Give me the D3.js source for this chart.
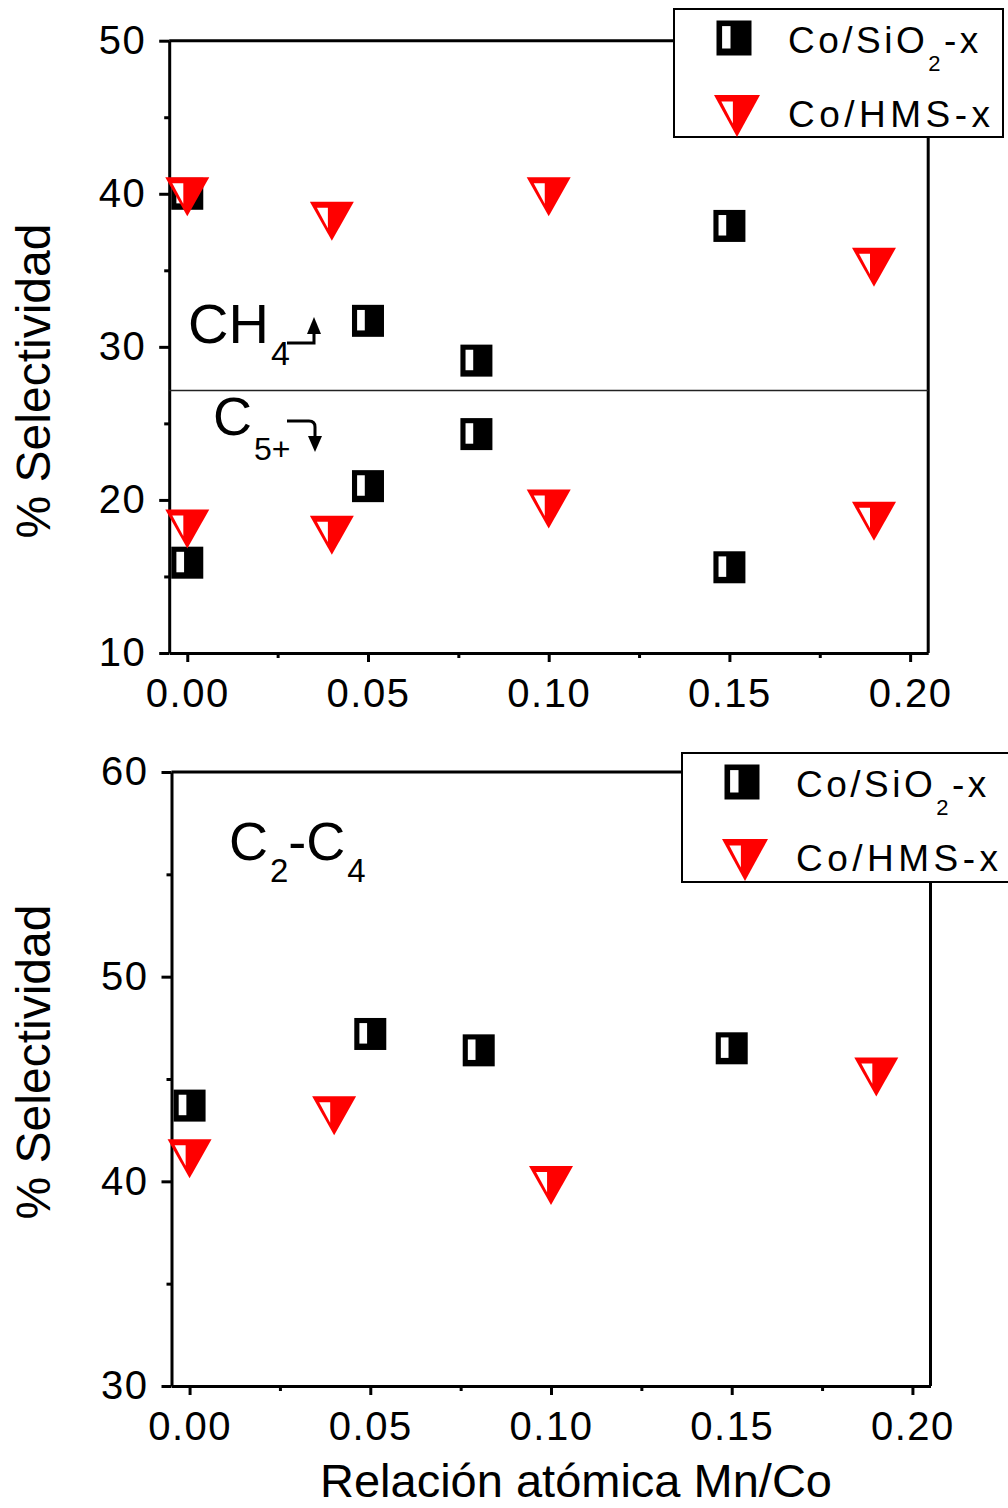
<!DOCTYPE html>
<html>
<head>
<meta charset="utf-8">
<script src="https://cdn.jsdelivr.net/npm/d3@7"></script>
<style>
  html, body { margin: 0; padding: 0; background: #fff; }
  svg { display: block; }
  text { font-family: "Liberation Sans", Arial, Helvetica, sans-serif; fill: #000; }
</style>
</head>
<body>
<svg id="chart" width="1008" height="1508"></svg>
<script>
// Mn/Co atomic ratio for each catalyst series
const xSiO2 = [0, 0.05, 0.08, 0.15];
const xHMS  = [0, 0.04, 0.10, 0.19];

// Selectivity (%) — upper panel: CH4 and C5+
const ch4SiO2 = [40.0, 31.7, 29.1, 37.9];
const c5SiO2  = [15.9, 20.9, 24.3, 15.6];
const ch4HMS  = [39.8, 38.2, 39.8, 35.2];
const c5HMS   = [18.1, 17.7, 19.4, 18.6];

// Selectivity (%) — lower panel: C2-C4
const c24SiO2 = [43.7, 47.2, 46.4, 46.5];
const c24HMS  = [41.1, 43.2, 39.8, 45.1];

// Axis ticks
const xTicks = [0, 0.05, 0.10, 0.15, 0.20];
const xMinor = [0.025, 0.075, 0.125, 0.175];
const yTicksTop = [10, 20, 30, 40, 50];
const yMinorTop = [15, 25, 35, 45];
const yTicksBot = [30, 40, 50, 60];
const yMinorBot = [35, 45, 55];

// Boundary separating the CH4 (above) and C5+ (below) groups
const splitValue = 27.15;

const seriesNames = ["Co/SiO", "Co/HMS-x"];

const svg = d3.select("#chart");
const RED = "#ff0000";

// Half-filled square symbol (black)
function drawSquare(g, s) {
  g.append("rect").attr("x", -s / 2).attr("y", -s / 2).attr("width", s).attr("height", s).attr("fill", "#000");
  g.append("rect").attr("x", -s / 2 + s * 0.16).attr("y", -s / 2 + s * 0.16)
    .attr("width", s * 0.24).attr("height", s * 0.64).attr("fill", "#fff");
}
// Half-filled down-pointing triangle symbol (red)
function drawTriangle(g, w, h) {
  g.append("polygon").attr("points", [[-w / 2, -h / 2], [w / 2, -h / 2], [0, h / 2]].map(p => p.join(",")).join(" "))
    .attr("fill", RED);
  g.append("polygon").attr("points",
    [[-0.34 * w, -0.346 * h], [-0.09 * w, -0.346 * h], [-0.09 * w, 0.177 * h]].map(p => p.join(",")).join(" "))
    .attr("fill", "#fff");
}

function panel(cfg) {
  const x = d3.scaleLinear().domain([-0.005, 0.205]).range(cfg.xRange);
  const y = d3.scaleLinear().domain(cfg.yDomain).range(cfg.yRange);
  const g = svg.append("g");
  const [x0, x1] = cfg.xRange;
  const [yb, yt] = cfg.yRange;

  // frame (top and right)
  g.append("path").attr("d", `M${x0},${yt}H${x1}V${yb}`).attr("fill", "none").attr("stroke", "#000").attr("stroke-width", 3);

  // x axis
  g.append("g").attr("transform", `translate(0,${yb})`)
    .call(d3.axisBottom(x).tickValues(xTicks).tickSize(9).tickSizeOuter(0).tickPadding(17).tickFormat(d3.format(".2f")));
  g.append("g").attr("transform", `translate(0,${yb})`)
    .call(d3.axisBottom(x).tickValues(xMinor).tickSize(5).tickSizeOuter(0).tickFormat(""))
    .select(".domain").remove();
  // y axis
  g.append("g").attr("transform", `translate(${x0},0)`)
    .call(d3.axisLeft(y).tickValues(cfg.yTicks).tickSize(10).tickSizeOuter(0).tickPadding(13));
  g.append("g").attr("transform", `translate(${x0},0)`)
    .call(d3.axisLeft(y).tickValues(cfg.yMinor).tickSize(5).tickSizeOuter(0).tickFormat(""))
    .select(".domain").remove();

  g.selectAll(".domain").attr("stroke-width", 3).attr("stroke", "#000");
  g.selectAll(".tick line").attr("stroke-width", 3).attr("stroke", "#000");
  g.selectAll(".tick text").attr("font-size", 40).attr("font-family", "Liberation Sans, Arial, sans-serif")
    .attr("letter-spacing", "1.5px").attr("fill", "#000");

  // axis title
  g.append("text").attr("transform", `translate(50,${cfg.titleY}) rotate(-90)`)
    .attr("text-anchor", "middle").attr("font-size", 48).text("% Selectividad");

  cfg.extra && cfg.extra(g, x, y);

  // data markers
  cfg.squares.forEach(vals => {
    vals.forEach((v, i) => drawSquare(g.append("g").attr("transform", `translate(${x(xSiO2[i])},${y(v)})`), 32));
  });
  cfg.triangles.forEach(vals => {
    vals.forEach((v, i) => drawTriangle(g.append("g").attr("transform", `translate(${x(xHMS[i])},${y(v)})`), 44, 39));
  });

  // legend
  const L = cfg.legend;
  g.append("rect").attr("x", L.x).attr("y", L.y).attr("width", L.w).attr("height", L.h)
    .attr("fill", "#fff").attr("stroke", "#000").attr("stroke-width", 2);
  drawSquare(g.append("g").attr("transform", `translate(${L.x + 60},${L.y + 29})`), 35);
  drawTriangle(g.append("g").attr("transform", `translate(${L.x + 63},${L.y + 107})`), 46, 42);
  const t1 = g.append("text").attr("x", L.x + 114).attr("y", L.y + 44).attr("font-size", 37).attr("letter-spacing", "3.5px");
  t1.append("tspan").text(seriesNames[0]);
  t1.append("tspan").attr("font-size", 22).attr("dy", 18).text("2");
  t1.append("tspan").attr("dy", -18).text("-x");
  g.append("text").attr("x", L.x + 114).attr("y", L.y + 118).attr("font-size", 37).attr("letter-spacing", "4.5px")
    .text(seriesNames[1]);
}

// Upper panel: CH4 / C5+
panel({
  xRange: [169.2, 928.2], yDomain: [10, 50], yRange: [653, 40.7], titleY: 381,
  yTicks: yTicksTop, yMinor: yMinorTop,
  squares: [ch4SiO2, c5SiO2], triangles: [ch4HMS, c5HMS],
  legend: { x: 674, y: 9, w: 329, h: 128 },
  extra: (g, x, y) => {
    g.append("line").attr("x1", x(-0.005)).attr("x2", x(0.205)).attr("y1", y(splitValue)).attr("y2", y(splitValue))
      .attr("stroke", "#222").attr("stroke-width", 1.6);
    // CH4 label with arrow pointing up
    const a = g.append("text").attr("x", 188).attr("y", 343).attr("font-size", 56);
    a.append("tspan").text("CH");
    a.append("tspan").attr("font-size", 34).attr("dy", 22).attr("dx", 2).text("4");
    g.append("path").attr("d", "M287,343H314V330").attr("fill", "none").attr("stroke", "#000").attr("stroke-width", 3);
    g.append("polygon").attr("points", "314,317 307,334 321,334").attr("fill", "#000");
    // C5+ label with arrow pointing down
    const b = g.append("text").attr("x", 213).attr("y", 435).attr("font-size", 54);
    b.append("tspan").text("C");
    b.append("tspan").attr("font-size", 32).attr("dy", 25).attr("dx", 2).text("5+");
    g.append("path").attr("d", "M287,421H309Q315,421 315,427V438").attr("fill", "none").attr("stroke", "#000").attr("stroke-width", 3);
    g.append("polygon").attr("points", "315,452 308,436 322,436").attr("fill", "#000");
  }
});

// Lower panel: C2-C4
panel({
  xRange: [171.5, 930.5], yDomain: [30, 60], yRange: [1386, 772], titleY: 1062,
  yTicks: yTicksBot, yMinor: yMinorBot,
  squares: [c24SiO2], triangles: [c24HMS],
  legend: { x: 682, y: 753, w: 340, h: 129 },
  extra: (g) => {
    const c = g.append("text").attr("x", 229).attr("y", 860).attr("font-size", 54);
    c.append("tspan").text("C");
    c.append("tspan").attr("font-size", 33).attr("dy", 22).attr("dx", 2).text("2");
    c.append("tspan").attr("dy", -22).text("-C");
    c.append("tspan").attr("font-size", 33).attr("dy", 22).attr("dx", 2).text("4");
  }
});

// shared x-axis title
svg.append("text").attr("x", 576).attr("y", 1497).attr("text-anchor", "middle").attr("font-size", 47)
  .text("Relación atómica Mn/Co");
</script>
</body>
</html>
